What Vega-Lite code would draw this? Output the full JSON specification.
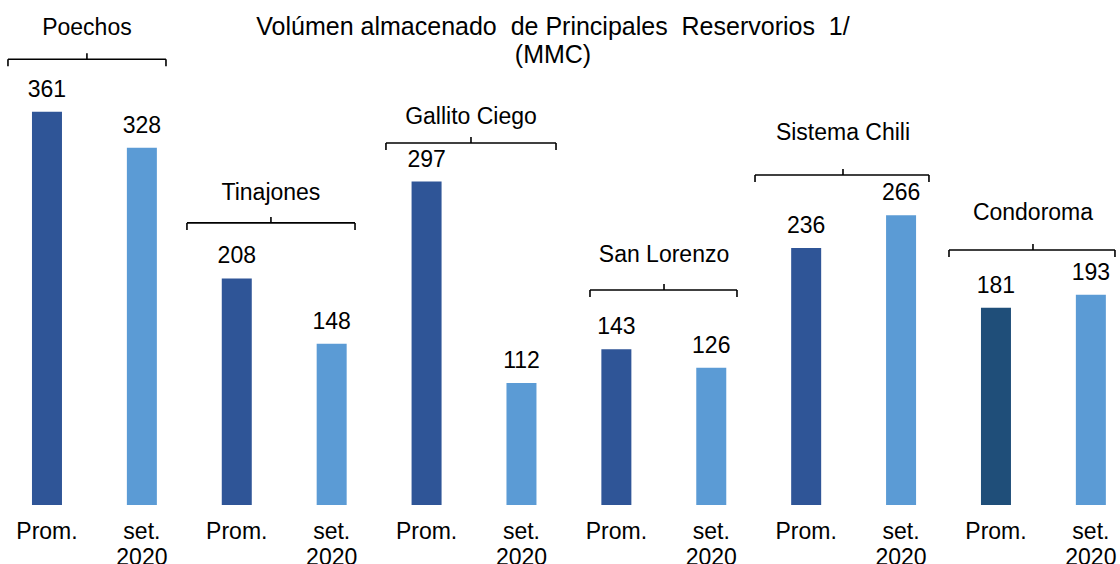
{
  "$schema": "https://vega.github.io/schema/vega-lite/v6.json",
  "width": 1120,
  "height": 564,
  "autosize": {"type": "none"},
  "padding": 0,
  "background": "white",
  "config": {"view": {"stroke": null}, "font": "Liberation Sans"},
  "title": {
    "text": ["Volúmen almacenado\u00a0 de Principales\u00a0 Reservorios\u00a0 1/", "(MMC)"],
    "fontSize": 25,
    "fontWeight": "normal",
    "font": "Liberation Sans",
    "color": "#000000",
    "anchor": "middle",
    "frame": "group",
    "offset": -68,
    "lineHeight": 28,
    "dx": -7
  },
  "datasets": {
    "bars": [
      {"embalse": "Poechos", "periodo": "Prom.", "pos": 1, "valor": 361},
      {"embalse": "Poechos", "periodo": "set.\n2020", "pos": 2, "valor": 328},
      {"embalse": "Tinajones", "periodo": "Prom.", "pos": 3, "valor": 208},
      {"embalse": "Tinajones", "periodo": "set.\n2020", "pos": 4, "valor": 148},
      {"embalse": "Gallito Ciego", "periodo": "Prom.", "pos": 5, "valor": 297},
      {"embalse": "Gallito Ciego", "periodo": "set.\n2020", "pos": 6, "valor": 112},
      {"embalse": "San Lorenzo", "periodo": "Prom.", "pos": 7, "valor": 143},
      {"embalse": "San Lorenzo", "periodo": "set.\n2020", "pos": 8, "valor": 126},
      {"embalse": "Sistema Chili", "periodo": "Prom.", "pos": 9, "valor": 236},
      {"embalse": "Sistema Chili", "periodo": "set.\n2020", "pos": 10, "valor": 266},
      {"embalse": "Condoroma", "periodo": "Prom.", "pos": 11, "valor": 181},
      {"embalse": "Condoroma", "periodo": "set.\n2020", "pos": 12, "valor": 193}
    ],
    "brackets": [
      {"embalse": "Poechos", "x1": 0.589, "x2": 2.254, "xm": 1.421, "yb": 409.3, "ly": 438},
      {"embalse": "Tinajones", "x1": 2.475, "x2": 4.246, "xm": 3.36, "yb": 259, "ly": 286.5},
      {"embalse": "Gallito Ciego", "x1": 4.572, "x2": 6.364, "xm": 5.468, "yb": 332.4, "ly": 356.3},
      {"embalse": "San Lorenzo", "x1": 6.722, "x2": 8.271, "xm": 7.502, "yb": 197.4, "ly": 229.6},
      {"embalse": "Sistema Chili", "x1": 8.461, "x2": 10.294, "xm": 9.388, "yb": 303, "ly": 341.6},
      {"embalse": "Condoroma", "x1": 10.505, "x2": 12.254, "xm": 11.39, "yb": 234.2, "ly": 268.1}
    ]
  },
  "layer": [
    {
      "data": {"name": "bars"},
      "mark": {"type": "bar", "width": 30},
      "encoding": {
        "x": {"field": "pos", "type": "quantitative", "scale": {"domain": [0.505, 12.307], "nice": false, "zero": false, "padding": 0}, "axis": null},
        "y": {"field": "valor", "type": "quantitative", "scale": {"domain": [-54.2, 463.7], "nice": false, "zero": false}, "axis": null},
        "y2": {"datum": 0},
        "color": {
          "condition": {"test": "datum.embalse === 'Condoroma' && datum.pos === 11", "value": "#1F4E79"},
          "field": "periodo", "type": "nominal",
          "scale": {"domain": ["Prom.", "set.\n2020"], "range": ["#2F5597", "#5B9BD5"]},
          "legend": null
        }
      }
    },
    {
      "data": {"name": "bars"},
      "mark": {"type": "text", "fontSize": 23, "baseline": "alphabetic", "align": "center", "dy": -15, "color": "#000000"},
      "encoding": {
        "x": {"field": "pos", "type": "quantitative"},
        "y": {"field": "valor", "type": "quantitative"},
        "text": {"field": "valor", "type": "quantitative"}
      }
    },
    {
      "data": {"name": "bars"},
      "mark": {"type": "text", "fontSize": 23, "baseline": "alphabetic", "align": "center", "lineBreak": "\n", "lineHeight": 26, "color": "#000000"},
      "encoding": {
        "x": {"field": "pos", "type": "quantitative"},
        "y": {"datum": -31.2, "type": "quantitative"},
        "text": {"field": "periodo", "type": "nominal"}
      }
    },
    {
      "data": {"name": "brackets"},
      "mark": {"type": "rule", "strokeWidth": 1.6, "color": "#000000"},
      "encoding": {
        "x": {"field": "x1", "type": "quantitative"},
        "x2": {"field": "x2"},
        "y": {"field": "yb", "type": "quantitative"}
      }
    },
    {
      "data": {"name": "brackets"},
      "mark": {"type": "rule", "strokeWidth": 1.6, "color": "#000000", "y2Offset": 7},
      "encoding": {
        "x": {"field": "x1", "type": "quantitative"},
        "y": {"field": "yb", "type": "quantitative"},
        "y2": {"field": "yb"}
      }
    },
    {
      "data": {"name": "brackets"},
      "mark": {"type": "rule", "strokeWidth": 1.6, "color": "#000000", "y2Offset": 7},
      "encoding": {
        "x": {"field": "x2", "type": "quantitative"},
        "y": {"field": "yb", "type": "quantitative"},
        "y2": {"field": "yb"}
      }
    },
    {
      "data": {"name": "brackets"},
      "mark": {"type": "rule", "strokeWidth": 1.6, "color": "#000000", "y2Offset": -6},
      "encoding": {
        "x": {"field": "xm", "type": "quantitative"},
        "y": {"field": "yb", "type": "quantitative"},
        "y2": {"field": "yb"}
      }
    },
    {
      "data": {"name": "brackets"},
      "mark": {"type": "text", "fontSize": 23, "baseline": "middle", "align": "center", "color": "#000000"},
      "encoding": {
        "x": {"field": "xm", "type": "quantitative"},
        "y": {"field": "ly", "type": "quantitative"},
        "text": {"field": "embalse", "type": "nominal"}
      }
    }
  ]
}
